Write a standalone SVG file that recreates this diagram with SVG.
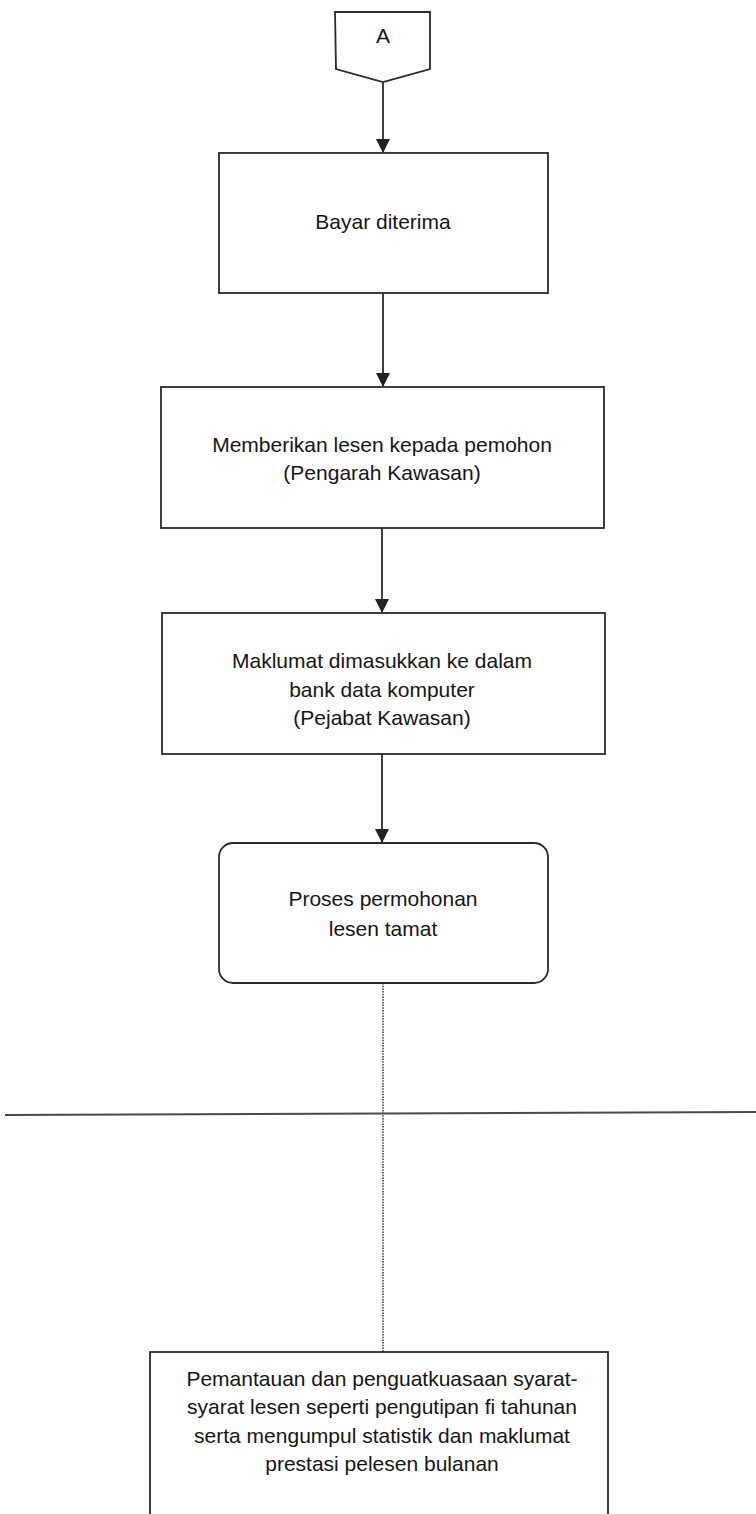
<svg xmlns="http://www.w3.org/2000/svg" width="756" height="1514" viewBox="0 0 756 1514">
<style>
.box{fill:#ffffff;stroke:#2b2b2b;stroke-width:1.8}
.t{font-family:"Liberation Sans",Arial,sans-serif;font-size:21px;fill:#151515;text-anchor:middle}
.conn{stroke:#2b2b2b;stroke-width:1.8;fill:none}
.dot{stroke:#555555;stroke-width:1.8;stroke-dasharray:1.5 1.2;fill:none}
.rule{stroke:#4a4a4a;stroke-width:2;fill:none}
</style>
<defs>
<marker id="ah" markerWidth="14" markerHeight="16" refX="13" refY="7" orient="auto" markerUnits="userSpaceOnUse" viewBox="0 0 14 14">
<path d="M0,0 L14,7 L0,14 Z" fill="#222"/>
</marker>
</defs>
<rect width="756" height="1514" fill="#ffffff"/>
<g id="connectors">
<line class="conn" x1="383" y1="82" x2="383" y2="152" marker-end="url(#ah)"/>
<line class="conn" x1="383" y1="293" x2="383" y2="386" marker-end="url(#ah)"/>
<line class="conn" x1="382" y1="528" x2="382" y2="612" marker-end="url(#ah)"/>
<line class="conn" x1="382" y1="754" x2="382" y2="842" marker-end="url(#ah)"/>
<line class="dot" x1="383" y1="983" x2="383" y2="1352"/>
</g>
<g id="divider">
<line class="rule" x1="5" y1="1115" x2="756" y2="1112"/>
</g>
<g id="nodeA">
<path class="box" d="M335,12 L430,12 L430,69 L383,82 L336,69 Z"/>
<text class="t" x="383" y="43">A</text>
</g>
<g id="node1">
<rect class="box" x="219" y="153" width="329" height="140"/>
<text class="t" x="383" y="229">Bayar diterima</text>
</g>
<g id="node2">
<rect class="box" x="161" y="387" width="443" height="141"/>
<text class="t" x="382" y="452">Memberikan lesen kepada pemohon</text>
<text class="t" x="382" y="480">(Pengarah Kawasan)</text>
</g>
<g id="node3">
<rect class="box" x="162" y="613" width="443" height="141"/>
<text class="t" x="382" y="668">Maklumat dimasukkan ke dalam</text>
<text class="t" x="382" y="697">bank data komputer</text>
<text class="t" x="382" y="725">(Pejabat Kawasan)</text>
</g>
<g id="node4">
<rect class="box" x="219" y="843" width="329" height="140" rx="14" ry="14"/>
<text class="t" x="383" y="906">Proses permohonan</text>
<text class="t" x="383" y="936">lesen tamat</text>
</g>
<g id="node5">
<rect class="box" x="150" y="1352" width="458" height="180"/>
<text class="t" x="382" y="1386">Pemantauan dan penguatkuasaan syarat-</text>
<text class="t" x="382" y="1414">syarat lesen seperti pengutipan fi tahunan</text>
<text class="t" x="382" y="1443">serta mengumpul statistik dan maklumat</text>
<text class="t" x="382" y="1471">prestasi pelesen bulanan</text>
</g>
</svg>
